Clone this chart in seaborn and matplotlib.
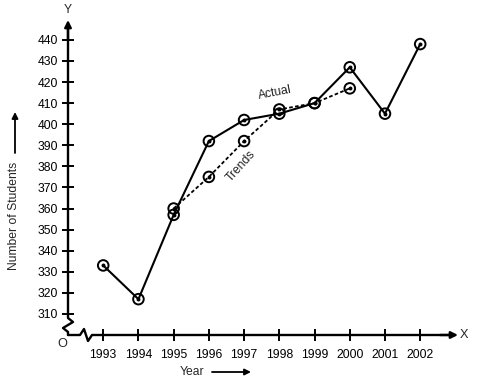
import matplotlib
matplotlib.use("Agg")
import matplotlib.pyplot as plt
from matplotlib.lines import Line2D
import seaborn as sns
import pandas as pd

# ---- data ----
years_actual = [1993, 1994, 1995, 1996, 1997, 1998, 1999, 2000, 2001, 2002]
students_actual = [333, 317, 357, 392, 402, 405, 410, 427, 405, 438]
years_trend = [1995, 1996, 1997, 1998, 1999, 2000]
students_trend = [360, 375, 392, 407, 410, 417]
x_ticks = [1993, 1994, 1995, 1996, 1997, 1998, 1999, 2000, 2001, 2002]
y_ticks = [310, 320, 330, 340, 350, 360, 370, 380, 390, 400, 410, 420, 430, 440]

sns.set_theme(style="white")
plt.rcParams["font.family"] = ["Liberation Sans", "DejaVu Sans"]

W, H = 478, 384
fig = plt.figure(figsize=(W / 100, H / 100), dpi=100)


def fx(x):
    return x / W


def fy(y):
    return 1 - y / H


ax = fig.add_axes([fx(68), fy(335), (455 - 68) / W, (335 - 22) / H])
ax.set_facecolor("none")
ax.set_xlim(1992, 1992 + (455 - 68) / 35.22)
ax.set_ylim(300, 300 + (335 - 22) / 2.108)
for s in ax.spines.values():
    s.set_visible(False)

df_a = pd.DataFrame({"Year": years_actual, "Students": students_actual})
df_t = pd.DataFrame({"Year": years_trend, "Students": students_trend})

sns.lineplot(data=df_a, x="Year", y="Students", ax=ax, color="black", lw=1.5)
sns.lineplot(data=df_t, x="Year", y="Students", ax=ax, color="black", lw=1.3,
             linestyle=(0, (2.0, 1.3)))
for d in (df_a, df_t):
    sns.scatterplot(data=d, x="Year", y="Students", ax=ax, marker="o", s=58,
                    facecolor="none", edgecolor="black", linewidth=1.4, zorder=5)
    sns.scatterplot(data=d, x="Year", y="Students", ax=ax, marker="o", s=8,
                    color="black", linewidth=0, zorder=6)

ax.set_xticks(x_ticks)
ax.set_yticks(y_ticks)
ax.set_xticklabels([str(v) for v in x_ticks])
ax.set_yticklabels([str(v) for v in y_ticks])
ax.tick_params(axis="both", direction="inout", length=8, width=1.4, color="black",
               labelsize=8.7, labelcolor="black", bottom=True, left=True)
ax.tick_params(axis="y", pad=3)
ax.tick_params(axis="x", pad=6)
ax.set_xlabel("")
ax.set_ylabel("")

# ---- axes lines with breaks and arrows ----
yaxis = [(68, 335), (68, 332), (63, 328), (73, 322), (68, 318), (68, 28)]
xaxis = [(68, 335), (80, 335), (84, 329), (88, 341), (92, 335), (452, 335)]
for pts in (yaxis, xaxis):
    fig.add_artist(Line2D([fx(p[0]) for p in pts], [fy(p[1]) for p in pts],
                          color="black", lw=1.7, transform=fig.transFigure))


def arrow(x0, y0, x1, y1, lw=1.3, ms=10):
    fig.add_artist(matplotlib.patches.FancyArrowPatch(
        (fx(x0), fy(y0)), (fx(x1), fy(y1)), transform=fig.transFigure,
        arrowstyle="-|>", mutation_scale=ms, color="black", lw=lw,
        shrinkA=0, shrinkB=0))


arrow(68, 40, 68, 20, lw=1.7)
arrow(440, 335, 458, 335, lw=1.7)
arrow(15, 153, 15, 112, lw=1.3, ms=9)
arrow(212, 372, 251, 372, lw=1.3, ms=9)

fs = 8.7
fig.text(fx(68), fy(10), "Y", ha="center", va="center", fontsize=fs)
fig.text(fx(464), fy(335), "X", ha="center", va="center", fontsize=fs + 0.5)
fig.text(fx(62), fy(344), "O", ha="center", va="center", fontsize=fs + 0.5)
fig.text(fx(14), fy(216), "Number of Students", ha="center", va="center",
         rotation=90, fontsize=fs)
fig.text(fx(180), fy(372), "Year", ha="left", va="center", fontsize=fs)
fig.text(fx(275), fy(93), "Actual", ha="center", va="center", rotation=11,
         fontsize=fs)
fig.text(fx(241), fy(166), "Trends", ha="center", va="center", rotation=48,
         fontsize=fs)

fig.savefig("out.png", dpi=100)
